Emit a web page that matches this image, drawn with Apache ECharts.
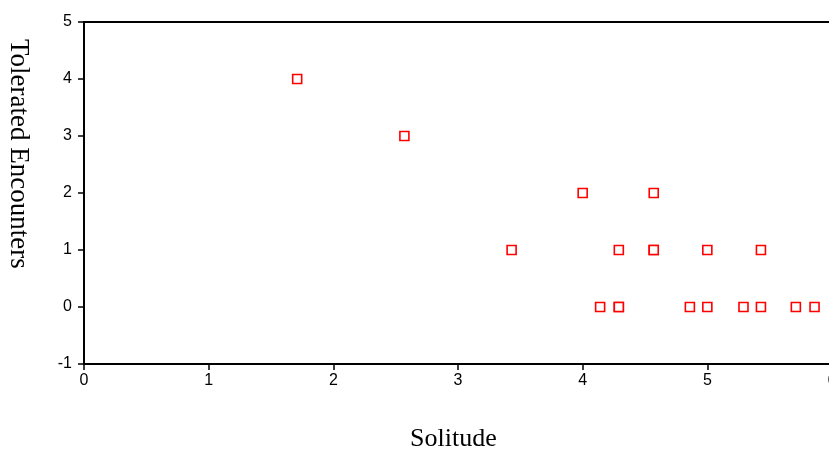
<!DOCTYPE html>
<html>
<head>
<meta charset="utf-8">
<script src="https://cdn.jsdelivr.net/npm/echarts@6/dist/echarts.min.js"></script>
<style>html,body{margin:0;padding:0;background:#fff}#c{width:829px;height:454px}</style>
</head>
<body>
<div id="c"></div>
<script>
var solitude = [1.71, 2.57, 3.43, 4.00, 4.57, 4.29, 4.57, 4.57, 5.00, 5.43, 4.14, 4.29, 4.29, 4.86, 5.00, 5.29, 5.43, 5.71, 5.86];
var encounters = [4, 3, 1, 2, 2, 1, 1, 1, 1, 1, 0, 0, 0, 0, 0, 0, 0, 0, 0];
var xTitle = 'Solitude';
var yTitle = 'Tolerated Encounters';

var pts = solitude.map(function (x, i) { return [x, encounters[i]]; });
var chart = echarts.init(document.getElementById('c'), null, {renderer: 'canvas'});
chart.setOption({
  animation: false,
  backgroundColor: '#fff',
  grid: {left: 84, top: 22, width: 748, height: 342, outerBoundsMode: 'none', containLabel: false, show: true, borderColor: '#000', borderWidth: 2, backgroundColor: 'transparent'},
  xAxis: {
    type: 'value', min: 0, max: 6, interval: 1,
    axisLine: {show: true, onZero: false, lineStyle: {color: '#000', width: 2}},
    axisTick: {show: true, length: 6, lineStyle: {color: '#000', width: 1.5}},
    axisLabel: {color: '#000', fontFamily: 'Liberation Sans, Arial', fontSize: 16, margin: 9, showMaxLabel: true, hideOverlap: false},
    splitLine: {show: false}
  },
  yAxis: {
    type: 'value', min: -1, max: 5, interval: 1,
    axisLine: {show: true, onZero: false, lineStyle: {color: '#000', width: 2}},
    axisTick: {show: true, length: 6, lineStyle: {color: '#000', width: 1.5}},
    axisLabel: {color: '#000', fontFamily: 'Liberation Sans, Arial', fontSize: 16, margin: 12},
    splitLine: {show: false}
  },
  graphic: [
    {type: 'text', left: 454 - 44, top: 426, style: {text: xTitle, font: '26px "Liberation Serif", "Times New Roman", serif', fill: '#000'}},
    {type: 'text', x: 18, y: 39, rotation: -Math.PI / 2, style: {text: yTitle, font: '27px "Liberation Serif", "Times New Roman", serif', fill: '#000', textVerticalAlign: 'middle', textAlign: 'left'}}
  ],
  series: [{
    type: 'scatter',
    data: pts,
    symbol: 'rect',
    symbolSize: 9,
    itemStyle: {color: '#fff', borderColor: '#f00', borderWidth: 1.6, opacity: 1}
  }]
});
</script>
</body>
</html>
